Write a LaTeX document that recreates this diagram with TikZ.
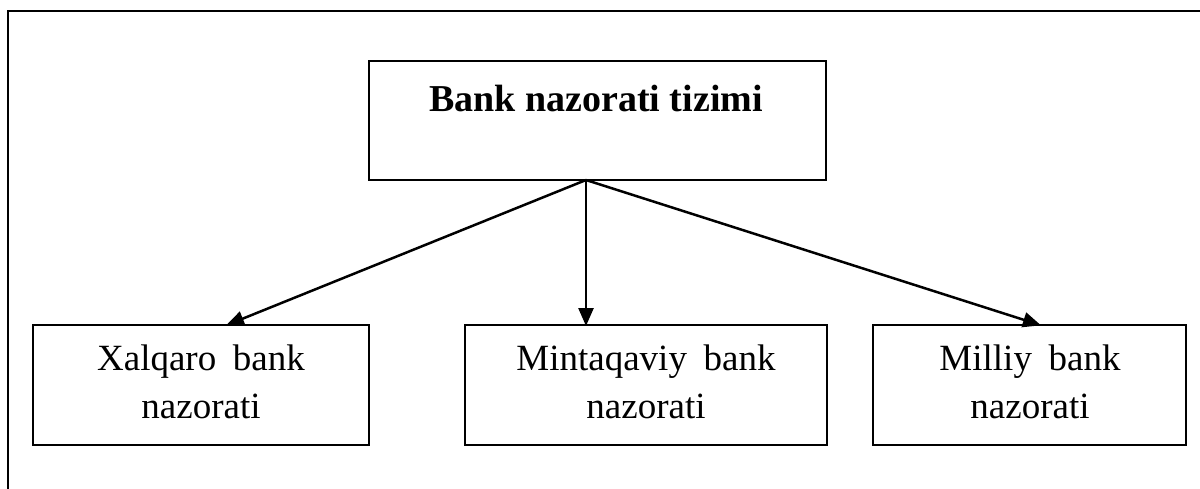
\documentclass[tikz,border=0pt]{standalone}
\usepackage{fontspec}
\setmainfont{Liberation Serif}
\usetikzlibrary{arrows.meta}
\begin{document}
\begin{tikzpicture}[x=1pt,y=-1pt,
  box/.style={draw,line width=2.4pt,inner sep=0pt},
  lbl/.style={font=\fontsize{37}{48}\selectfont,align=center,inner sep=0pt},
  ttl/.style={font=\fontsize{38}{46}\selectfont\bfseries,inner sep=0pt},
  conn/.style={line width=2.5pt,-{Triangle[length=18pt,width=15pt]},shorten >=-1pt}]
\useasboundingbox (0,0) rectangle (1200,488);
\fill[white] (0,0) rectangle (1200,488);
% outer frame (only top and left visible)
\draw[line width=2.6pt] (8,500) -- (8,11) -- (1210,11);
% boxes
\node[box,minimum width=457pt,minimum height=119pt] (top) at (597.5,120.5) {};
\node[box,minimum width=336pt,minimum height=120pt] (xb) at (201,385) {};
\node[box,minimum width=362pt,minimum height=120pt] (mb) at (646,385) {};
\node[box,minimum width=313pt,minimum height=120pt] (lb) at (1029.5,385) {};
% texts
\node[ttl,anchor=base] (tt) at (596,111) {Bank nazorati tizimi};
\node[lbl,anchor=base] (xt) at (201,418) {Xalqaro\hspace{0.45em}bank\\nazorati};
\node[lbl,anchor=base] (mt) at (646,418) {Mintaqaviy\hspace{0.45em}bank\\nazorati};
\node[lbl,anchor=base] (lt) at (1030,418) {Milliy\hspace{0.45em}bank\\nazorati};
% connectors
\coordinate (src) at (586,180);
\coordinate (xe) at (227,325);
\coordinate (me) at (586,325);
\coordinate (le) at (1040,325);
\draw[conn] (src) -- (xe);
\draw[conn] (src) -- (me);
\draw[conn] (src) -- (le);
\end{tikzpicture}
\end{document}
